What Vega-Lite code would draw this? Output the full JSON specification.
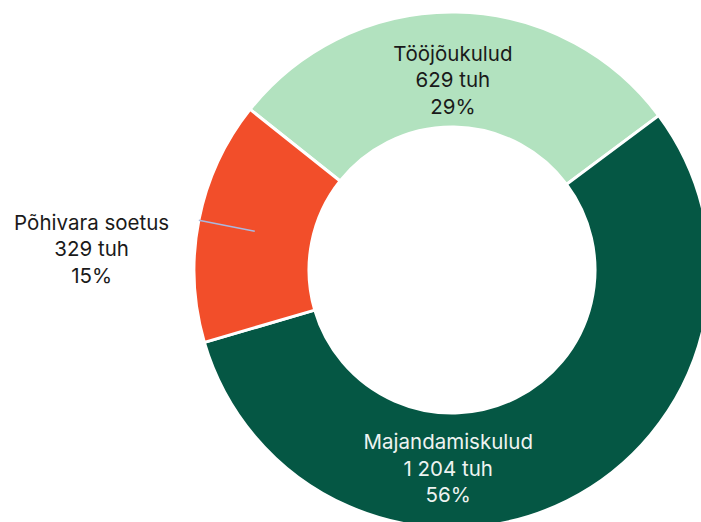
{
  "$schema": "https://vega.github.io/schema/vega-lite/v6.json",
  "width": 498,
  "height": 504,
  "autosize": {"type": "none"},
  "padding": {"left": 203, "top": 18, "right": 0, "bottom": 0},
  "background": "white",
  "config": {"view": {"stroke": null}},
  "data": {
    "values": [
      {"category": "Tööjõukulud", "value": 629},
      {"category": "Majandamiskulud", "value": 1204},
      {"category": "Põhivara soetus", "value": 329}
    ]
  },
  "transform": [
    {"window": [{"op": "row_number", "as": "rank"}]},
    {"joinaggregate": [{"op": "sum", "field": "value", "as": "total"}]},
    {"calculate": "datum.category + '\\n' + replace(format(datum.value, ','), ',', ' ') + ' tuh\\n' + format(datum.value / datum.total, '.0%')", "as": "label"}
  ],
  "encoding": {
    "theta": {"field": "value", "type": "quantitative", "stack": true, "scale": {"range": [-0.8988, 5.3844]}},
    "order": {"field": "rank", "type": "quantitative"},
    "color": {
      "field": "category",
      "type": "nominal",
      "scale": {
        "domain": ["Tööjõukulud", "Majandamiskulud", "Põhivara soetus"],
        "range": ["#b2e2bf", "#055744", "#f24e2a"]
      },
      "legend": null
    }
  },
  "layer": [
    {
      "mark": {"type": "arc", "outerRadius": 258, "innerRadius": 143, "stroke": "white", "strokeWidth": 3}
    },
    {
      "mark": {"type": "arc", "outerRadius": 258, "innerRadius": 201, "padAngle": 3, "fillOpacity": 0, "strokeWidth": 1.5},
      "encoding": {
        "stroke": {"condition": {"test": "datum.category === 'Põhivara soetus'", "value": "#aab8e0"}, "value": "transparent"}
      }
    },
    {
      "mark": {"type": "text", "radius": 190, "dx": -2, "dy": -25.5, "font": "Inter", "fontSize": 20.5, "lineHeight": 26.5, "lineBreak": "\n", "align": "center", "baseline": "middle"},
      "encoding": {
        "color": {"value": "#1a1a1a"},
        "detail": {"field": "category"},
        "text": {"condition": {"test": "datum.category === 'Tööjõukulud'", "field": "label"}, "value": ""}
      }
    },
    {
      "mark": {"type": "text", "radius": 220, "dx": -102, "dy": -23.5, "font": "Inter", "fontSize": 20.5, "lineHeight": 26.5, "lineBreak": "\n", "align": "center", "baseline": "middle"},
      "encoding": {
        "color": {"value": "#eef3f1"},
        "detail": {"field": "category"},
        "text": {"condition": {"test": "datum.category === 'Majandamiskulud'", "field": "label"}, "value": ""}
      }
    },
    {
      "mark": {"type": "text", "radius": 300, "dx": -66, "dy": 11.5, "font": "Inter", "fontSize": 20.5, "lineHeight": 26.5, "lineBreak": "\n", "align": "center", "baseline": "middle"},
      "encoding": {
        "color": {"value": "#1a1a1a"},
        "detail": {"field": "category"},
        "text": {"condition": {"test": "datum.category === 'Põhivara soetus'", "field": "label"}, "value": ""}
      }
    }
  ]
}
